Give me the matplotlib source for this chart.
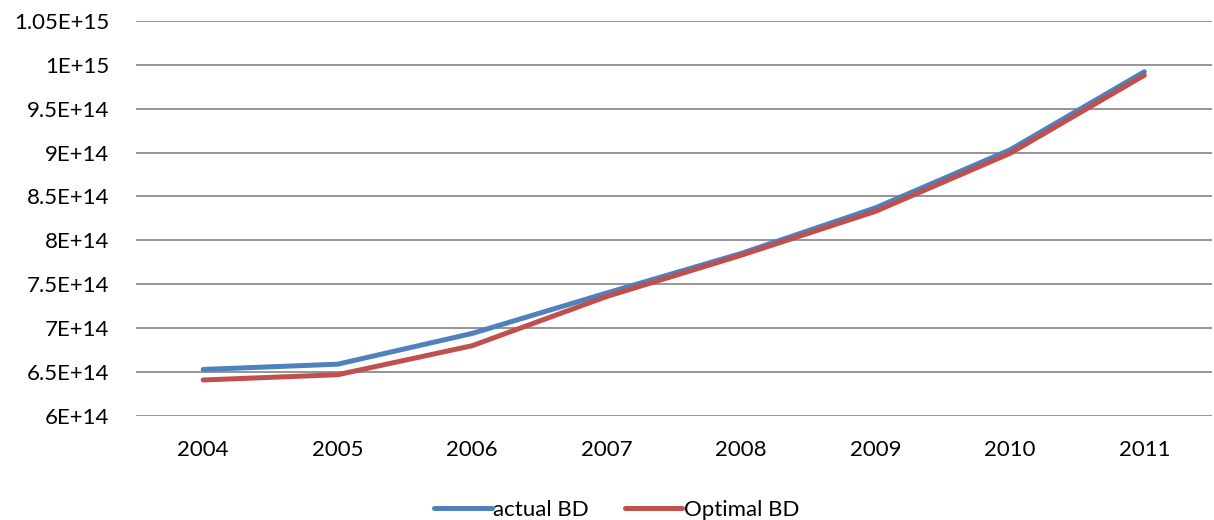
import matplotlib.pyplot as plt
import numpy as np

plt.rcParams['font.family'] = ['Lato', 'DejaVu Sans']

years = ['2004', '2005', '2006', '2007', '2008', '2009', '2010', '2011']
actual_bd = [6.53e14, 6.59e14, 6.94e14, 7.40e14, 7.85e14, 8.37e14, 9.03e14, 9.92e14]
optimal_bd = [6.41e14, 6.47e14, 6.80e14, 7.36e14, 7.83e14, 8.33e14, 8.99e14, 9.88e14]
y_ticks = np.arange(6e14, 1.05e15 + 1e13, 0.5e14)


def sci_label(v):
    # Excel-style labels: 6E+14, 6.5E+14, 1.05E+15
    exp = int(np.floor(np.log10(v)))
    mant = round(v / 10 ** exp, 2)
    m = ('%g' % mant)
    return f'{m}E+{exp}'


fig = plt.figure(figsize=(12.14, 5.2), dpi=100)
ax = fig.add_axes([0.112, 0.2, 0.886, 0.76])

x = np.arange(len(years))
ax.plot(x, actual_bd, color='#4F81BD', lw=3.6, solid_capstyle='round', label='actual BD')
ax.plot(x, optimal_bd, color='#C0504D', lw=3.6, solid_capstyle='round', label='Optimal BD')

ax.set_xlim(-0.5, len(years) - 0.5)
ax.set_ylim(6e14, 1.05e15)
ax.set_xticks(x)
ax.set_xticklabels(years)
ax.set_yticks(y_ticks)
ax.set_yticklabels([sci_label(v) for v in y_ticks])
ax.tick_params(length=0, labelsize=16, colors='black')
ax.tick_params(axis='y', pad=19)
ax.tick_params(axis='x', pad=17)

ax.grid(axis='y', color='#8c8c8c', lw=1.3)
ax.set_axisbelow(True)
for s in ax.spines.values():
    s.set_visible(False)

fig.legend(loc='lower center', bbox_to_anchor=(0.508, -0.038), ncol=2, frameon=False,
           fontsize=16, handlelength=2.6, handletextpad=0.05, columnspacing=1.6)

fig.savefig('out.png', dpi=100)
